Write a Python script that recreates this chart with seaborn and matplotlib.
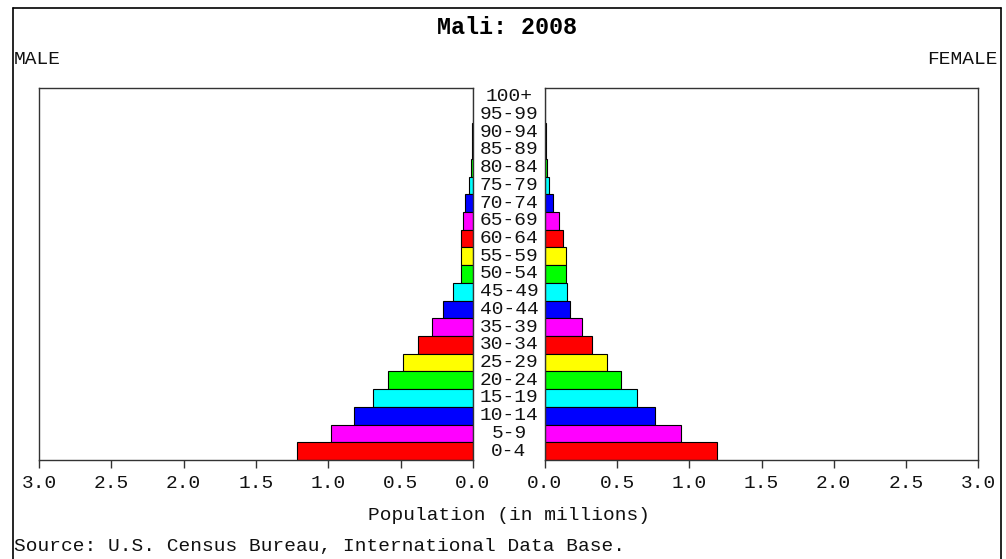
import numpy as np
import pandas as pd
import seaborn as sns
import matplotlib.pyplot as plt
from matplotlib.lines import Line2D
from matplotlib import transforms

# ---------------------------------------------------------------
# Data: Mali 2008 population by age group (millions)
# ---------------------------------------------------------------
ages = ['0-4', '5-9', '10-14', '15-19', '20-24', '25-29', '30-34',
        '35-39', '40-44', '45-49', '50-54', '55-59', '60-64', '65-69',
        '70-74', '75-79', '80-84', '85-89', '90-94', '95-99', '100+']
male = [1.214, 0.983, 0.822, 0.693, 0.585, 0.486, 0.382, 0.283, 0.205,
        0.136, 0.084, 0.085, 0.083, 0.071, 0.055, 0.026, 0.016, 0.010,
        0.006, 0.003, 0.001]
female = [1.190, 0.940, 0.765, 0.638, 0.527, 0.430, 0.324, 0.258, 0.173,
          0.155, 0.143, 0.143, 0.123, 0.095, 0.053, 0.026, 0.012, 0.007,
          0.004, 0.002, 0.001]
cycle = ['#ff0000', '#ff00ff', '#0000ff', '#00ffff', '#00ff00', '#ffff00']
xticks = [0.0, 0.5, 1.0, 1.5, 2.0, 2.5, 3.0]

df = pd.DataFrame({'age': ages, 'male': male, 'female': female})
palette = {a: cycle[i % len(cycle)] for i, a in enumerate(ages)}
order = ages[::-1]  # 100+ at top

sns.set_style('ticks')
plt.rcParams['font.family'] = ['Liberation Mono', 'DejaVu Sans Mono']
txt = '#111111'

W, H = 1006, 559
fig = plt.figure(figsize=(W / 100, H / 100), dpi=100)

def box(x0, x1, y_top, y_bot):
    return [x0 / W, 1 - y_bot / H, (x1 - x0) / W, (y_bot - y_top) / H]

ax_m = fig.add_axes(box(39, 473, 88, 460))
ax_f = fig.add_axes(box(545, 978, 88, 460))

for ax, col in [(ax_m, 'male'), (ax_f, 'female')]:
    sns.barplot(data=df, x=col, y='age', hue='age', order=order,
                hue_order=order, palette=palette, saturation=1, legend=False,
                width=1.0, edgecolor='black', linewidth=0.8, ax=ax)
    ax.set_xlim(0, 3)
    ax.set_ylim(len(ages) - 0.5, -0.5)
    ax.set_xticks(xticks)
    ax.set_xticklabels([f'{t:.1f}' for t in xticks], fontsize=14, color=txt)
    ax.set_yticks([])
    ax.set_xlabel('')
    ax.set_ylabel('')
    ax.tick_params(axis='x', bottom=True, direction='out', length=6,
                   width=1, color='#333333', pad=5)
    for s in ax.spines.values():
        s.set_visible(True)
        s.set_color('#333333')
        s.set_linewidth(1.0)

ax_m.invert_xaxis()

# age labels centred between the two halves
trans = transforms.blended_transform_factory(fig.transFigure, ax_m.transData)
for i, lab in enumerate(order):
    ax_m.text(509 / W, i, lab, transform=trans, ha='center', va='center',
              fontsize=14, color=txt, clip_on=False)

# titles and notes
fig.text(507 / W, 1 - 28 / H, 'Mali: 2008', ha='center', va='center',
         fontsize=16.8, fontweight='bold', color='black')
fig.text(14 / W, 1 - 60 / H, 'MALE', ha='left', va='center', fontsize=14, color=txt)
fig.text(998 / W, 1 - 60 / H, 'FEMALE', ha='right', va='center', fontsize=14, color=txt)
fig.text(509 / W, 1 - 516 / H, 'Population (in millions)', ha='center',
         va='center', fontsize=14, color=txt)
fig.text(14 / W, 1 - 546 / H, 'Source: U.S. Census Bureau, International Data Base.',
         ha='left', va='center', fontsize=14, color=txt)

# outer frame
for xs, ys in [([13, 13], [8, 570]), ([1001, 1001], [8, 570]), ([13, 1001], [8, 8])]:
    fig.add_artist(Line2D([x / W for x in xs], [1 - y / H for y in ys],
                          color='black', linewidth=1.2, clip_on=False))

fig.savefig('out.png', dpi=100)
